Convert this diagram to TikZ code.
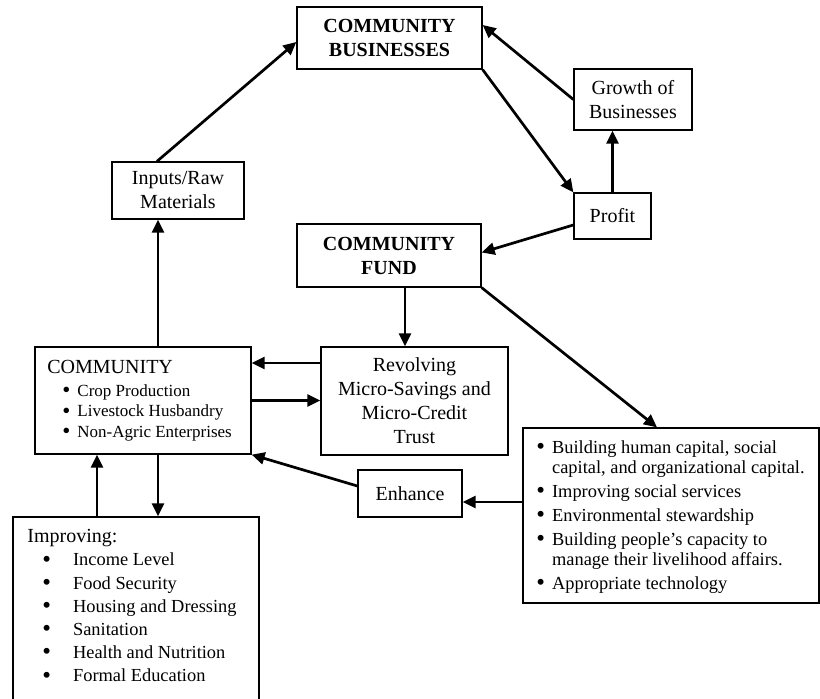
\documentclass[tikz,border=0pt]{standalone}
\usepackage{fontspec}
\setmainfont{Liberation Serif}
\usetikzlibrary{arrows.meta}
\tikzset{
  box/.style={draw=black,line width=0.65pt,inner sep=0pt,align=center,
    font=\fontsize{10}{12}\selectfont},                        % plain box
  hdr/.style={font=\fontsize{10}{12}\selectfont\bfseries},   % bold title
  txt/.style={inner sep=0pt,anchor=north west},              % list text
  arr/.style={-{Triangle[length=6.5pt,width=6pt]},line width=1.35pt},
}
\newcommand{\bul}{\raisebox{-0.15ex}{\scalebox{1.35}{\textbullet}}}

\begin{document}
\begin{tikzpicture}[x=0.5pt,y=-0.5pt]
  \useasboundingbox (0,0) rectangle (820,699);
  \clip (0,0) rectangle (820,699);
  % boxes
  \node[box,hdr,minimum width=92.5pt,minimum height=31pt] (biz) at (389.5,38) {COMMUNITY\\BUSINESSES};
  \node[box,minimum width=59pt,minimum height=30.5pt] (growth) at (633,99.5) {Growth of\\Businesses};
  \node[box,minimum width=38.5pt,minimum height=23pt] (profit) at (612.5,216) {Profit};
  \node[box,hdr,minimum width=92pt,minimum height=31.5pt] (fund) at (389,255.5) {COMMUNITY\\FUND};
  \node[box,minimum width=66pt,minimum height=28.5pt] (inputs) at (178,190.5) {Inputs/Raw\\Materials};
  \node[box,minimum width=108pt,minimum height=53.5pt] (comm) at (143,400.5) {};
  \node[box,minimum width=93.5pt,minimum height=54pt] (revolve) at (414.5,401)
    {Revolving\\Micro-Savings and\\Micro-Credit\\Trust};
  \node[box,minimum width=52pt,minimum height=23.5pt] (enhance) at (410,493.5) {Enhance};
  \node[box,minimum width=148pt,minimum height=87.5pt] (capital) at (671,515.5) {};
  \node[box,minimum width=123pt,minimum height=101.5pt] (improve) at (136,618.5) {};
  % list texts
  \node[txt] (commtxt) at (47,358.6) {\fontsize{8.5}{10.25}\selectfont
    \begin{tabular}{@{\hspace{7.5pt}}l@{\hspace{3.5pt}}l@{}}
      \multicolumn{2}{@{}l@{}}{\fontsize{10}{12}\selectfont COMMUNITY}\\[1.25pt]
      \bul & Crop Production\\
      \bul & Livestock Husbandry\\
      \bul & Non-Agric Enterprises
    \end{tabular}};
  \node[txt] (captxt) at (536,439) {\fontsize{9.2}{10}\selectfont
    \begin{tabular}{@{}l@{\hspace{3.5pt}}l@{}}
      \bul & Building human capital, social\\
           & capital, and organizational capital.\\[2pt]
      \bul & Improving social services\\[2pt]
      \bul & Environmental stewardship\\[2pt]
      \bul & Building people’s capacity to\\
           & manage their livelihood affairs.\\[2pt]
      \bul & Appropriate technology
    \end{tabular}};
  \node[txt] (imptxt) at (27,526) {\fontsize{9.2}{11.6}\selectfont
    \begin{tabular}{@{\hspace{7.5pt}}l@{\hspace{11pt}}l@{}}
      \multicolumn{2}{@{}l@{}}{\fontsize{10}{12}\selectfont Improving:}\\
      \bul & Income Level\\
      \bul & Food Security\\
      \bul & Housing and Dressing\\
      \bul & Sanitation\\
      \bul & Health and Nutrition\\
      \bul & Formal Education
    \end{tabular}};
  % connectors
  \draw[arr] ([xshift=-10.5pt]inputs.north) -- ([yshift=-2pt]biz.west);
  \draw[arr] ([xshift=7.5pt]comm.north) -- ([xshift=7.5pt]comm.north |- inputs.south);
  \draw[arr] (biz.south east) -- (profit.north west);
  \draw[arr] (profit.north) -- (profit.north |- growth.south);
  \draw[arr] (growth.west) -- ([yshift=6.5pt]biz.east);
  \draw[arr] ([yshift=-4.5pt]profit.west) -- ([yshift=1.5pt]fund.east);
  \draw[arr] ([xshift=8pt]fund.south) -- ([xshift=8pt]fund.south |- revolve.north);
  \draw[arr] (fund.south east) -- ([xshift=-7pt]capital.north);
  \draw[arr] ([yshift=19pt]revolve.west) -- ([yshift=19pt]revolve.west -| comm.east);
  \draw[arr] (comm.east) -- (comm.east -| revolve.west);
  \draw[arr] ([yshift=3.75pt]enhance.west) -- (comm.south east);
  \draw[arr] ([yshift=6.75pt]capital.west) -- ([yshift=6.75pt]capital.west -| enhance.east);
  \draw[arr] ([xshift=-19.5pt]improve.north) -- ([xshift=-19.5pt]improve.north |- comm.south);
  \draw[arr] ([xshift=7.5pt]comm.south) -- ([xshift=7.5pt]comm.south |- improve.north);
\end{tikzpicture}
\end{document}
